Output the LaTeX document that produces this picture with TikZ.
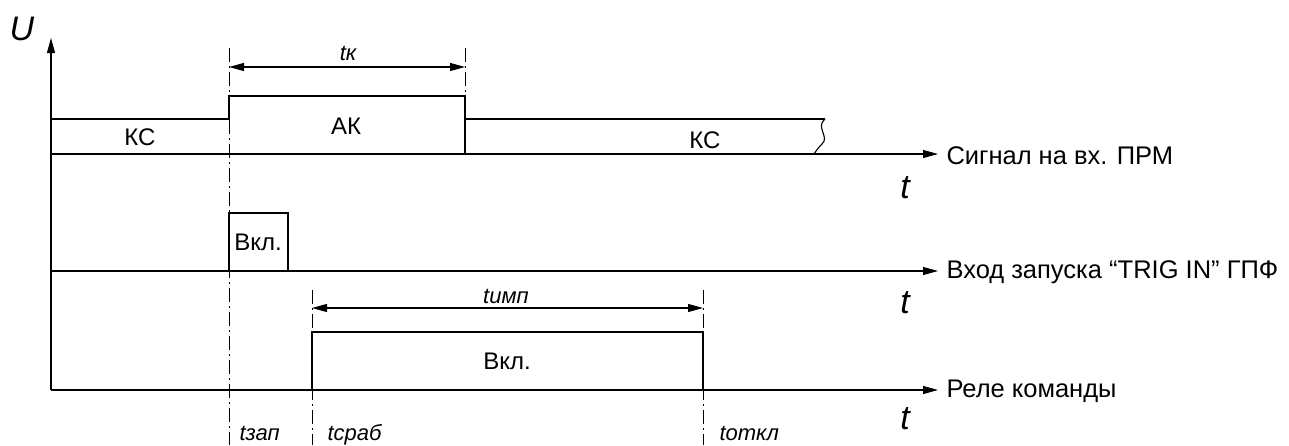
\documentclass[tikz,border=0pt]{standalone}
\usepackage{fontspec}
\setmainfont{Liberation Sans}
\usetikzlibrary{arrows.meta}
\begin{document}
\begin{tikzpicture}[x=1pt,y=-1pt,line width=1.1pt,
  tip/.tip={Triangle[length=15pt,width=8pt]},
  axis/.style={draw,-tip},
  dimline/.style={draw,tip-tip},
  dashdot/.style={draw,line width=0.9pt,dash pattern=on 14pt off 4pt on 2pt off 4pt},
  txt/.style={inner sep=0pt,font=\fontsize{24}{28}\selectfont},
  rtxt/.style={inner sep=0pt,anchor=west,font=\fontsize{25.5}{29}\selectfont},
  tsmall/.style={inner sep=0pt,font=\fontsize{22}{26}\selectfont\itshape},
  tbig/.style={inner sep=0pt,font=\fontsize{34}{38}\selectfont\itshape}]
\useasboundingbox (0,0) rectangle (1289,445);
% coordinates
\coordinate (o) at (51,390);
\coordinate (ytop) at (51,38);
\coordinate (a1) at (51,154);
\coordinate (a1e) at (938,154);
\coordinate (a2) at (51,271);
\coordinate (a2e) at (938,271);
\coordinate (a3e) at (938,390);
% dash-dot guide lines
\coordinate (g1t) at (229,48);  \coordinate (g1b) at (229,445);
\coordinate (g2t) at (465,48);  \coordinate (g2b) at (465,96);
\coordinate (g3t) at (312,290); \coordinate (g3b) at (312,445);
\coordinate (g4t) at (703,290); \coordinate (g4b) at (703,445);
\draw[dashdot] (g1t) -- (g1b);
\draw[dashdot] (g2t) -- (g2b);
\draw[dashdot] (g3t) -- (g3b);
\draw[dashdot] (g4t) -- (g4b);
% axes
\draw[axis] (o) -- (ytop);
\draw[axis] (a1) -- (a1e);
\draw[axis] (a2) -- (a2e);
\draw[axis] (o) -- (a3e);
% signal 1
\draw (a1) -- (51,119) -- (229,119) -- (229,96) -- (465,96) -- (465,154);
\draw (465,119) -- (825,119);
\draw (825,119) .. controls (815,127) and (830,137) .. (822,144) .. controls (818,148) and (816,151) .. (814,154);
% tk dimension
\draw[dimline] (229,67) -- (465,67);
% signal 2
\draw (229,271) -- (229,213) -- (288,213) -- (288,271);
% signal 3
\draw[dimline] (312,308) -- (703,308);
\draw (312,390) -- (312,332) -- (703,332) -- (703,390);
% texts
\node[tbig] (U) at (22,29) {U};
\node[tsmall] (tk) at (348,53) {tк};
\node[txt] (ks1) at (140,137) {КС};
\node[txt] (ak) at (346,126) {АК};
\node[txt] (ks2) at (705,140) {КС};
\node[txt] (on1) at (258,242) {Вкл.};
\node[txt] (on2) at (507,361) {Вкл.};
\node[tsmall] (timp) at (506,296) {tимп};
\node[tbig] (t1) at (905,188) {t};
\node[tbig] (t2) at (905,303) {t};
\node[tbig] (t3) at (905,419) {t};
\node[rtxt] (l1) at (946,156) {Сигнал на вх. ПРМ};
\node[rtxt] (l2) at (946,272) {Вход запуска “TRIG IN” ГПФ};
\node[rtxt] (l3) at (946,391) {Реле команды};
\node[tsmall,anchor=base west] (tzap) at (239,440) {tзап};
\node[tsmall,anchor=base west] (tsrab) at (327,440) {tсраб};
\node[tsmall,anchor=base west] (totkl) at (719,440) {tоткл};
\end{tikzpicture}
\end{document}
